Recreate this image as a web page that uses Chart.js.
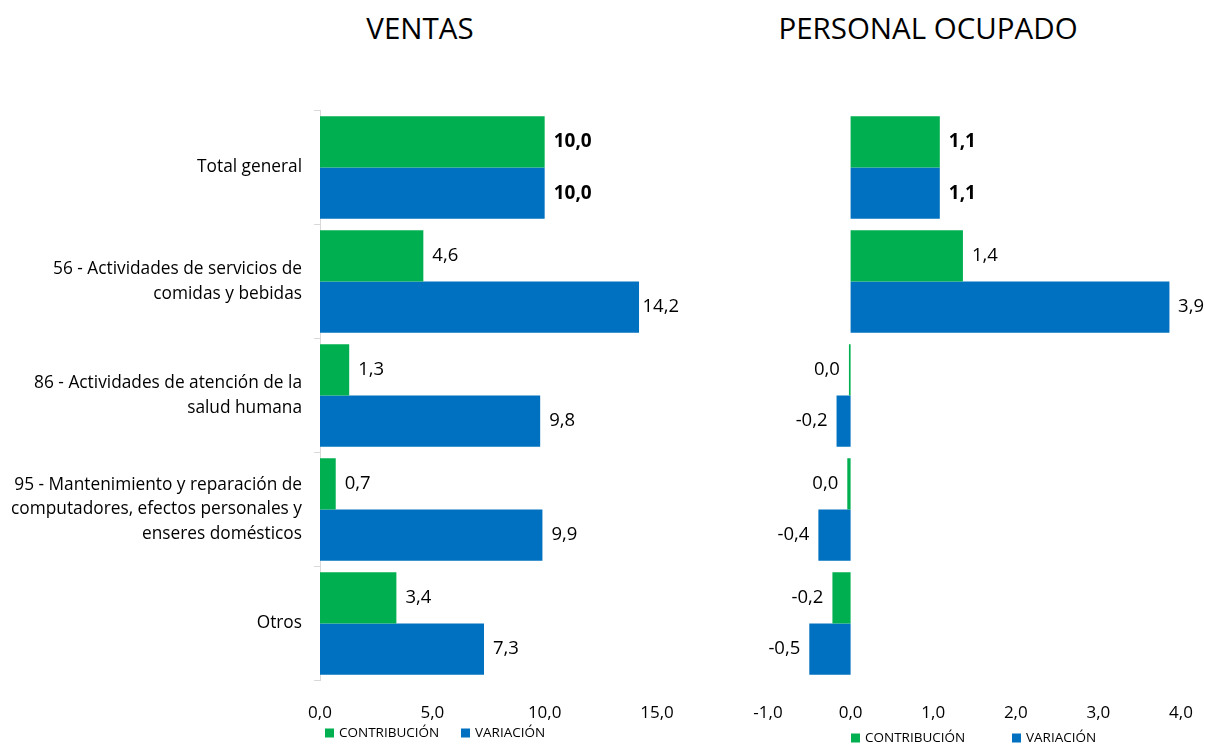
<!DOCTYPE html>
<html>
<head>
<meta charset="utf-8">
<script src="https://cdn.jsdelivr.net/npm/chart.js@4/dist/chart.umd.min.js"></script>
<style>
  body { margin:0; background:#fff; width:1205px; height:745px; overflow:hidden; position:relative; font-family:"Open Sans", sans-serif; }
  .titulo { position:absolute; top:8px; font-size:29.5px; line-height:40px; color:#000; transform:translateX(-50%); white-space:nowrap; }
  canvas { position:absolute; top:0; }
</style>
</head>
<body>
<div class="titulo" style="left:420px">VENTAS</div>
<div class="titulo" style="left:928px">PERSONAL OCUPADO</div>
<canvas id="ventas" width="720" height="745" style="left:0"></canvas>
<canvas id="personal" width="485" height="745" style="left:720px"></canvas>
<script>
// ── datos
const categorias = [
  "Total general",
  ["56 - Actividades de servicios de", "comidas y bebidas"],
  ["86 - Actividades de atención de la", "salud humana"],
  ["95 - Mantenimiento y reparación de", "computadores, efectos personales y", "enseres domésticos"],
  "Otros"
];
const series = ["CONTRIBUCIÓN", "VARIACIÓN"];
const colores = ["#00B050", "#0070C0"];

const ventasContribucion = [10.0, 4.6, 1.3, 0.7, 3.4];
const ventasVariacion = [10.0, 14.2, 9.8, 9.9, 7.3];

const personalContribucion = [1.08, 1.36, -0.02, -0.04, -0.22];
const personalVariacion = [1.08, 3.86, -0.17, -0.39, -0.5];

const ventasEje = { min: 0, max: 15, paso: 5 };
const personalEje = { min: -1, max: 4, paso: 1 };

Chart.defaults.font.family = '"Open Sans", sans-serif';
Chart.defaults.color = "#000";

function fmt(v) {
  if (Math.abs(v) < 0.05) return "0,0";
  return v.toFixed(1).replace(".", ",");
}

// ── etiquetas de valor al final de cada barra (sin salirse del borde derecho)
const etiquetas = {
  id: "etiquetas",
  afterDatasetsDraw(chart, args, opts) {
    const ctx = chart.ctx;
    chart.data.datasets.forEach((ds, i) => {
      chart.getDatasetMeta(i).data.forEach((bar, j) => {
        const v = ds.data[j];
        const txt = fmt(v);
        ctx.save();
        ctx.font = j === 0 ? 'bold 19px "Open Sans"' : '18.5px "Open Sans"';
        ctx.fillStyle = "#000";
        ctx.textBaseline = "middle";
        if (v >= 0) {
          const w = ctx.measureText(txt).width;
          const x = Math.min(bar.x + 9, opts.maxDer - w);
          ctx.textAlign = "left"; ctx.fillText(txt, x, bar.y);
        } else {
          ctx.textAlign = "right"; ctx.fillText(txt, bar.x - 9, bar.y);
        }
        ctx.restore();
      });
    });
  }
};

// ── leyenda debajo del eje
const leyenda = {
  id: "leyenda",
  afterDraw(chart, args, opts) {
    const ctx = chart.ctx;
    ctx.save();
    ctx.font = '13.5px "Open Sans"';
    ctx.textBaseline = "middle";
    ctx.textAlign = "left";
    chart.data.datasets.forEach((ds, i) => {
      const x = opts.x[i];
      ctx.fillStyle = ds.backgroundColor;
      ctx.fillRect(x, opts.y - 4.5, 9, 9);
      ctx.fillStyle = "#000";
      ctx.fillText(ds.label, x + 14, opts.y + 0.5);
    });
    ctx.restore();
  }
};

function crear(id, contrib, varia, eje, conEtiquetas, padIzq, padDer, leyX, leyY, maxDer) {
  return new Chart(document.getElementById(id), {
    type: "bar",
    data: {
      labels: categorias,
      datasets: [
        { label: series[0], data: contrib, backgroundColor: colores[0] },
        { label: series[1], data: varia, backgroundColor: colores[1] }
      ]
    },
    options: {
      indexAxis: "y",
      responsive: false,
      animation: false,
      categoryPercentage: 0.9,
      barPercentage: 1.0,
      layout: { padding: { left: padIzq, right: padDer, top: 110.5, bottom: 0 } },
      scales: {
        x: {
          min: eje.min, max: eje.max,
          grid: { display: false, drawTicks: true, tickLength: 22 },
          border: { display: false },
          ticks: { stepSize: eje.paso, padding: 0, font: { size: 17 }, callback: v => fmt(v) },
          afterFit: s => { s.height = 64.5; }
        },
        y: conEtiquetas ? {
          grid: { drawOnChartArea: false, tickLength: 6, color: "#d9d9d9" },
          border: { color: "#d9d9d9" },
          ticks: { padding: 12, font: { size: 17.3, lineHeight: 1.42 } },
          afterFit: s => { s.width = 320; }
        } : { display: false }
      },
      plugins: {
        legend: { display: false },
        tooltip: { enabled: false },
        leyenda: { x: leyX, y: leyY },
        etiquetas: { maxDer: maxDer }
      }
    },
    plugins: [etiquetas, leyenda]
  });
}

crear("ventas", ventasContribucion, ventasVariacion, ventasEje, true, 0, 63, [325, 461], 733, 679);
crear("personal", personalContribucion, personalVariacion, personalEje, false, 48, 24, [131, 292], 738, 484);
</script>
</body>
</html>
